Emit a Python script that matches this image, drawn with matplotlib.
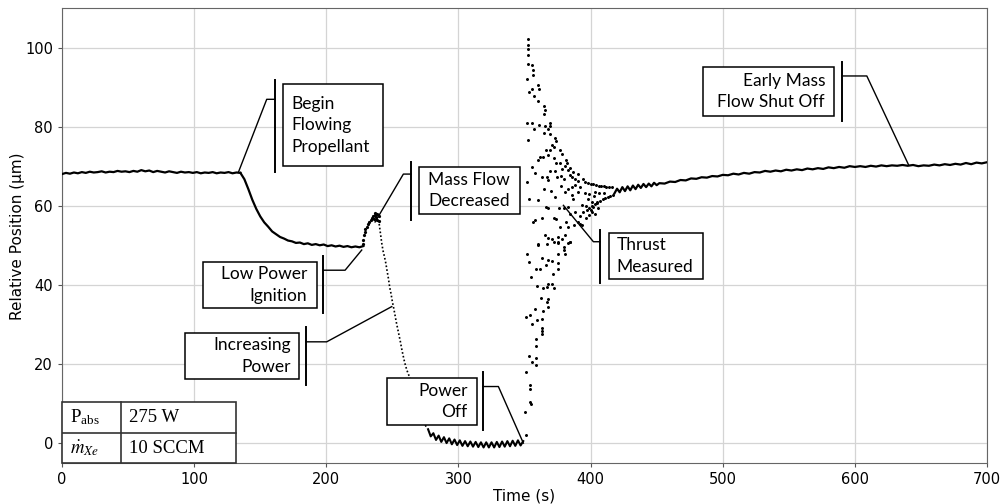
import numpy as np
import matplotlib
matplotlib.use('Agg')
import matplotlib.pyplot as plt
from matplotlib.patches import Rectangle

plt.rcParams['font.family'] = ['DejaVu Sans']
plt.rcParams['mathtext.fontset'] = 'stix'

# ---- data ----
# steady part before propellant flow (every 3 s)
t_pre = np.arange(0, 136, 3)
v_pre = [68.1, 68.4, 68.2, 68.5, 68.3, 68.6, 68.4, 68.7, 68.5, 68.6,
         68.8, 68.5, 68.7, 68.6, 68.9, 68.7, 68.8, 68.6, 68.9, 68.7,
         69.1, 68.8, 69.0, 68.6, 68.9, 68.7, 68.5, 68.8, 68.6, 68.4,
         68.7, 68.5, 68.6, 68.4, 68.6, 68.3, 68.5, 68.4, 68.6, 68.3,
         68.5, 68.4, 68.6, 68.3, 68.5, 68.4]

# drop after propellant starts flowing
t_flow = np.arange(135, 229, 3)
v_flow = [68.4, 66.8, 64.3, 61.6, 59.3, 57.4, 55.9, 54.8, 53.6, 52.9,
          52.2, 51.8, 51.3, 51.1, 50.7, 50.8, 50.4, 50.6, 50.2, 50.4,
          50.1, 50.3, 49.9, 50.1, 49.8, 50.0, 49.7, 49.9, 49.6, 49.8,
          49.6, 49.9]

# ignition jump (sparse samples)
t_ign = [227.5, 228, 228.5, 229, 229.5, 230.5, 231.5, 232.5, 233.5, 234.5,
         235.5, 236, 236.5, 237, 237.5, 238, 238.5, 239.5, 240]
v_ign = [50.5, 51.5, 52.6, 53.5, 54.2, 54.8, 55.6, 56.0, 56.6, 57.0,
         57.4, 56.8, 57.8, 58.2, 57.2, 57.9, 56.6, 57.5, 56.2]

# increasing power, dotted descent
t_pow = np.arange(240, 277, 1)
v_pow = [55.5, 53.0, 50.5, 48.6, 47.2, 45.6, 43.6, 41.7, 39.4, 37.8,
         35.8, 34.2, 32.4, 30.6, 29.0, 27.4, 25.8, 24.0, 22.4, 20.9,
         19.6, 18.5, 17.6, 16.8, 15.6, 14.4, 13.2, 12.0, 11.1, 9.9,
         8.9, 7.9, 7.0, 6.2, 5.4, 4.6, 3.8]

# settled near zero until power off
t_low = np.arange(277, 350, 2)
v_low = [3.6, 1.8, 2.6, 0.9, 2.0, 0.4, 1.6, 0.1, 1.3, -0.2,
         1.0, -0.4, 0.8, -0.6, 0.6, -0.7, 0.5, -0.8, 0.4, -0.9,
         0.3, -1.0, 0.3, -1.0, 0.3, -1.0, 0.4, -0.9, 0.5, -0.8,
         0.6, -0.7, 0.7, -0.6, 0.8, -0.5, 0.6]

# ringing after power off (scattered samples)
osc_points = [
    (352.4, 102.2), (352.4, 100.8), (352.9, 99.7), (352.4, 98.1), (352.9, 96.0),
    (355.9, 95.6), (356.7, 94.4), (356.4, 93.1), (351.9, 92.2), (355.9, 89.7),
    (360.5, 90.6), (361.2, 89.7), (353.4, 88.9), (356.9, 87.9), (360.5, 86.5),
    (365.0, 85.3), (365.5, 84.2), (364.5, 83.2), (351.6, 81.1), (355.9, 81.1),
    (357.4, 79.6), (361.0, 80.6), (365.5, 80.3), (369.0, 80.9), (369.5, 80.3),
    (368.0, 79.4), (364.5, 78.6), (369.0, 78.3), (352.9, 76.7), (373.1, 77.1),
    (374.1, 76.4), (370.5, 75.4), (372.6, 75.0), (366.0, 74.1), (369.0, 74.1),
    (377.1, 74.3), (378.1, 73.3), (362.0, 72.5), (360.0, 71.6), (364.0, 72.5),
    (368.0, 72.9), (372.6, 72.2), (374.1, 70.8), (376.9, 70.8), (381.6, 71.6),
    (382.2, 71.0), (355.9, 69.9), (357.9, 68.4), (369.5, 68.9), (373.1, 68.9),
    (378.1, 69.5), (380.6, 70.2), (382.7, 69.1), (384.7, 69.7), (386.7, 68.5),
    (390.7, 68.2), (351.6, 66.0), (363.0, 67.4), (367.0, 67.4), (368.0, 66.7),
    (374.6, 67.4), (377.6, 67.6), (380.1, 66.9), (384.2, 67.8), (385.7, 67.4),
    (388.2, 66.8), (390.7, 66.3), (394.5, 66.8), (353.4, 61.8), (360.5, 61.5),
    (364.5, 64.4), (370.0, 63.8), (373.1, 62.3), (377.6, 65.1), (380.6, 63.6),
    (383.2, 64.4), (385.7, 62.8), (386.9, 61.9), (390.2, 63.6), (392.2, 64.9),
    (395.8, 63.2), (398.3, 61.9), (400.8, 61.1), (403.3, 63.6), (366.0, 59.8),
    (368.0, 59.6), (376.1, 59.4), (380.1, 59.4), (383.2, 59.8), (384.4, 58.1),
    (388.2, 58.6), (393.3, 60.2), (396.3, 60.1), (400.3, 59.0), (402.1, 59.8),
    (404.6, 60.7), (356.4, 56.0), (357.9, 56.4), (363.0, 57.0), (372.1, 56.9),
    (373.6, 56.7), (377.1, 54.8), (381.1, 56.0), (383.2, 54.8), (387.2, 55.2),
    (390.7, 56.0), (393.3, 55.2), (396.3, 56.9), (398.8, 57.7), (401.3, 58.6),
    (403.3, 58.1), (405.4, 59.4), (365.5, 52.7), (367.5, 52.0), (370.5, 51.8),
    (375.1, 52.2), (378.6, 51.6), (382.7, 50.8), (384.7, 51.0), (360.0, 50.3),
    (367.0, 50.3), (375.6, 51.0), (380.6, 52.7), (392.2, 55.6),
    (360.0, 50.2), (372.6, 51.0), (375.6, 50.6), (380.1, 49.7), (379.6, 48.9),
    (380.6, 47.9), (375.6, 47.9), (384.4, 51.0), (351.6, 48.0), (353.4, 45.9),
    (363.5, 47.0), (367.5, 46.3), (371.1, 46.2), (375.1, 45.7), (358.4, 44.2),
    (362.0, 44.2), (366.0, 45.1), (375.6, 44.0), (354.9, 42.1), (371.6, 42.8),
    (359.4, 39.8), (364.0, 39.4), (367.0, 39.6), (368.0, 40.4), (371.1, 40.3),
    (372.1, 39.4), (362.5, 36.7), (367.5, 36.4), (367.0, 35.8), (367.5, 34.4),
    (357.9, 33.9), (364.0, 33.5), (351.4, 32.0), (353.9, 32.4), (355.4, 30.2),
    (359.4, 31.2), (363.0, 31.4), (363.0, 29.3), (363.0, 28.5), (363.5, 27.6),
    (358.4, 26.5), (358.9, 24.6), (353.4, 22.1), (358.4, 21.7), (355.4, 20.6),
    (359.0, 19.8), (350.9, 18.1), (354.4, 14.8), (354.4, 13.9), (354.4, 10.5),
    (354.9, 10.1), (350.4, 8.0), (350.9, 2.1),
    (396.0, 66.0), (397.0, 59.0), (398.0, 65.8), (399.0, 59.5), (400.0, 65.6),
    (401.0, 60.0), (402.0, 65.5), (403.0, 60.5), (404.0, 65.3), (405.0, 61.0),
    (406.0, 65.2), (407.0, 61.3), (408.0, 65.1), (409.0, 61.7), (410.0, 65.0),
    (411.0, 62.0), (412.0, 64.9), (413.0, 62.3), (414.0, 64.9), (415.0, 62.6),
    (416.0, 64.8), (417.0, 62.9), (398.5, 63.0), (402.5, 62.6), (406.5, 63.4),
    (410.5, 63.2), (394.0, 58.4), (392.0, 57.6), (388.0, 65.4), (386.0, 64.9),
]
osc_t = [p[0] for p in osc_points]
osc_v = [p[1] for p in osc_points]

# thrust measured, slow drift back up
t_post = list(np.arange(418, 451, 2)) + list(np.arange(452, 701, 4))
v_post = [63.2, 64.4, 63.5, 64.8, 63.8, 65.0, 64.0, 65.2, 64.3, 65.4,
          64.6, 65.6, 64.8, 65.7, 65.0, 65.9, 65.3,
          65.8, 65.7, 66.2, 66.1, 66.6, 66.5, 67.0, 66.9, 67.3, 67.2,
          67.6, 67.5, 67.9, 67.8, 68.2, 68.0, 68.4, 68.2, 68.6, 68.5,
          68.9, 68.7, 69.0, 68.8, 69.2, 69.0, 69.3, 69.1, 69.5, 69.3,
          69.6, 69.4, 69.8, 69.6, 69.9, 69.7, 70.1, 69.9, 70.1, 69.9,
          70.2, 70.0, 70.3, 70.1, 70.3, 70.2, 70.4, 70.2, 70.4, 70.1,
          70.3, 70.2, 70.5, 70.3, 70.6, 70.4, 70.7, 70.5, 70.9, 70.6,
          71.0, 70.8, 71.1]

# callouts: text, box (x0, x1, y0, y1), bar (x, y0, y1), elbow, tip, text x, align
callouts = [
    ('Begin\nFlowing\nPropellant', (167.5, 243.2, 70.1, 90.8), (161.2, 68.7, 92.0),
     (154.9, 87.0), (133.4, 68.5), 173.8, 'left'),
    ('Mass Flow\nDecreased', (270.4, 346.6, 57.9, 69.9), (264.1, 56.6, 71.2),
     (258.3, 68.1), (236.9, 56.0), 277.2, 'left'),
    ('Low Power\nIgnition', (106.5, 192.7, 34.2, 45.9), (197.7, 32.9, 47.4),
     (214.2, 43.8), (226.8, 48.9), 185.6, 'right'),
    ('Increasing\nPower', (93.1, 179.4, 16.2, 28.0), (184.7, 14.8, 29.4),
     (200.3, 25.7), (249.5, 34.6), 173.1, 'right'),
    ('Power\nOff', (246.2, 313.8, 4.7, 16.6), (318.4, 3.4, 18.0),
     (330.2, 14.4), (349.1, 0.1), 307.0, 'right'),
    ('Thrust\nMeasured', (414.2, 484.9, 41.7, 53.1), (407.1, 40.5, 53.9),
     (402.1, 51.0), (379.4, 60.2), 419.8, 'left'),
    ('Early Mass\nFlow Shut Off', (484.9, 584.2, 82.7, 95.2), (590.3, 81.6, 96.5),
     (609.0, 92.9), (640.5, 70.5), 577.4, 'right'),
]

table_rows = [(r'P$_\mathregular{abs}$', '275 W'), (r'$\dot{m}_{Xe}$', '10 SCCM')]

fig = plt.figure(figsize=(10.02, 5.04), dpi=100)
ax = fig.add_axes([0.0619, 0.0808, 0.9232, 0.9027])

ax.plot(t_pre, v_pre, color='black', lw=1.6, zorder=3)
ax.plot(t_flow, v_flow, color='black', lw=1.6, zorder=3)
ax.plot(t_ign, v_ign, 'o', color='black', ms=1.3, zorder=3)
ax.plot(t_pow, v_pow, color='black', lw=1.2, ls=(0, (1, 1.3)), zorder=3)
ax.plot(t_low, v_low, color='black', lw=1.5, zorder=3)
ax.plot(osc_t, osc_v, 'o', color='black', ms=1.15, zorder=3)
ax.plot(t_post, v_post, color='black', lw=1.6, zorder=3)

ax.set_xlim(0, 700)
ax.set_ylim(-5, 110)
ax.set_xticks(range(0, 701, 100))
ax.set_yticks(range(0, 101, 20))
ax.grid(True, color='#d4d4d4', lw=0.9)
ax.set_axisbelow(True)
ax.tick_params(labelsize=10.5, length=3, color='#555555')
for s in ax.spines.values():
    s.set_color('#666666')
ax.set_xlabel('Time (s)', fontsize=11, labelpad=1)
ax.set_ylabel('Relative Position (µm)', fontsize=11)
ax.yaxis.set_label_coords(-0.04, 0.5)

for text, box, bar, elbow, tip, tx, ha in callouts:
    x0, x1, y0, y1 = box
    ax.add_patch(Rectangle((x0, y0), x1 - x0, y1 - y0, fc='white', ec='black', lw=1.1, zorder=5))
    ax.text(tx, (y0 + y1) / 2, text, ha=ha, va='center', fontsize=12.5,
            family='Lato', linespacing=1.42, zorder=6)
    ax.plot([bar[0], bar[0]], [bar[1], bar[2]], color='black', lw=1.4, zorder=5)
    ax.plot([bar[0], elbow[0], tip[0]], [elbow[1], elbow[1], tip[1]], color='black', lw=1.0, zorder=5)

# parameter table in the lower left corner
tab_x = [0, 44.4, 131.4]
tab_y = [10.6, 2.7, -5]
ax.add_patch(Rectangle((tab_x[0], tab_y[2]), tab_x[2], tab_y[0] - tab_y[2],
                       fc='white', ec='#333333', lw=1.2, zorder=5, clip_on=False))
ax.plot([tab_x[1], tab_x[1]], [tab_y[2], tab_y[0]], color='#333333', lw=1.2, zorder=6)
ax.plot([tab_x[0], tab_x[2]], [tab_y[1], tab_y[1]], color='#333333', lw=1.2, zorder=6)
for i, (name, val) in enumerate(table_rows):
    yc = (tab_y[i] + tab_y[i + 1]) / 2
    ax.text(6, yc, name, ha='left', va='center', fontsize=13.5, family='Liberation Serif', zorder=7)
    ax.text(50.5, yc, val, ha='left', va='center', fontsize=13.5, family='Liberation Serif', zorder=7)

fig.savefig('out.png', dpi=100)
